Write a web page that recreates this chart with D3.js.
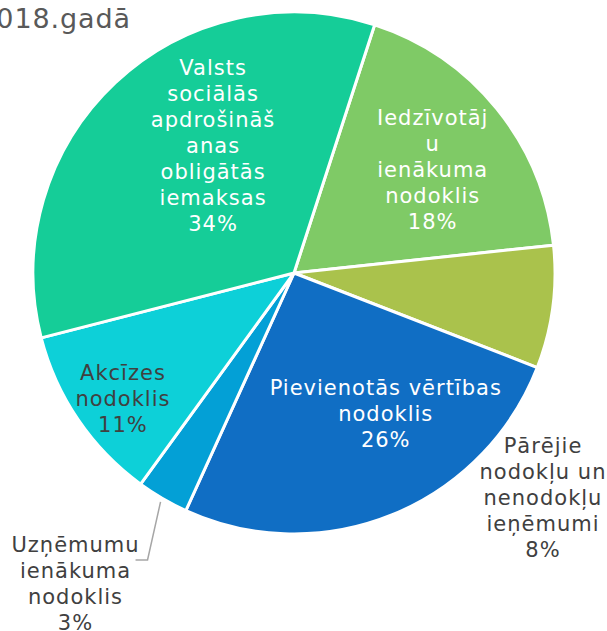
<!DOCTYPE html>
<html>
<head>
<meta charset="utf-8">
<script src="https://cdn.jsdelivr.net/npm/d3@7"></script>
<style>
  body { margin: 0; background: #fff; }
  svg { display: block; font-family: "DejaVu Sans", Verdana, sans-serif; }
</style>
</head>
<body>
<div id="chart"></div>
<script>
// slice order is clockwise, starting from the first slice angle
var categories = ["Iedzīvotāju ienākuma nodoklis", "Pārējie nodokļu un nenodokļu ieņēmumi",
  "Pievienotās vērtības nodoklis", "Uzņēmumu ienākuma nodoklis", "Akcīzes nodoklis",
  "Valsts sociālās apdrošināšanas obligātās iemaksas"];
var values = [18.3, 7.6, 25.9, 3.2, 11.0, 34.0];
var labelLines = [
  ["Iedzīvotāj", "u", "ienākuma", "nodoklis"],
  ["Pārējie", "nodokļu un", "nenodokļu", "ieņēmumi"],
  ["Pievienotās vērtības", "nodoklis"],
  ["Uzņēmumu", "ienākuma", "nodoklis"],
  ["Akcīzes", "nodoklis"],
  ["Valsts", "sociālās", "apdrošināš", "anas", "obligātās", "iemaksas"]
];
var title = "2018.gadā";

var colors = ["#7FCA66", "#AAC24C", "#106EC4", "#03A0D6", "#0DD0D8", "#15CD98"];
var labelColors = ["#fff", "#404040", "#fff", "#404040", "#404040", "#fff"];
// label block centre, polar from pie centre (radius px, angle deg clockwise from top)
var labelLayout = [
  {r: 173, a: 53.3}, {r: 335.6, a: 132.1}, {r: 168, a: 146.9},
  {r: 380, a: 215.1}, {r: 212, a: 233.8}, {r: 150.6, a: 327.5}
];

var width = 607, height = 631;
var cx = 294, cy = 273, radius = 261;
var lineH = 26;
var startDeg = 18;

var svg = d3.select("#chart").append("svg")
  .attr("width", width)
  .attr("height", height);

svg.append("text")
  .attr("x", 131)
  .attr("y", 28)
  .attr("text-anchor", "end")
  .style("font-size", "27px")
  .style("letter-spacing", "0.9px")
  .style("fill", "#595959")
  .text(title);

var pie = d3.pie()
  .sort(null)
  .value(d => d)
  .startAngle(startDeg * Math.PI / 180)
  .endAngle((startDeg + 360) * Math.PI / 180);

var arcs = pie(values);

var arc = d3.arc()
  .innerRadius(0)
  .outerRadius(radius);

var g = svg.append("g")
  .attr("transform", `translate(${cx},${cy})`);

g.selectAll("path")
  .data(arcs)
  .enter()
  .append("path")
    .attr("d", arc)
    .attr("fill", (d, i) => colors[i])
    .attr("stroke", "#fff")
    .attr("stroke-width", 3)
    .attr("stroke-linejoin", "round");

function polar(r, deg) {
  var t = deg * Math.PI / 180;
  return [r * Math.sin(t), -r * Math.cos(t)];
}

// leader line for the small slice
var small = arcs[3];
var mid = (small.startAngle + small.endAngle) / 2 * 180 / Math.PI;
var p0 = polar(radius + 4, mid);
var lp = polar(labelLayout[3].r, labelLayout[3].a);
var elbowY = lp[1] - 1.5 * lineH + 15;
g.append("polyline")
  .attr("points", [p0, [p0[0] - 13, elbowY], [p0[0] - 25, elbowY]].map(p => p.join(",")).join(" "))
  .attr("fill", "none")
  .attr("stroke", "#A6A6A6")
  .attr("stroke-width", 1.5);

arcs.forEach(function(d, i) {
  var lines = labelLines[i].concat([Math.round(d.data) + "%"]);
  var p = polar(labelLayout[i].r, labelLayout[i].a);
  var y0 = p[1] - (lines.length - 1) * lineH / 2;
  var t = g.append("text")
    .attr("text-anchor", "middle")
    .style("font-size", "21px")
    .style("letter-spacing", "1px")
    .style("fill", labelColors[i]);
  lines.forEach(function(s, k) {
    t.append("tspan")
      .attr("x", p[0])
      .attr("y", y0 + k * lineH)
      .attr("dy", "0.35em")
      .text(s);
  });
});
</script>
</body>
</html>
